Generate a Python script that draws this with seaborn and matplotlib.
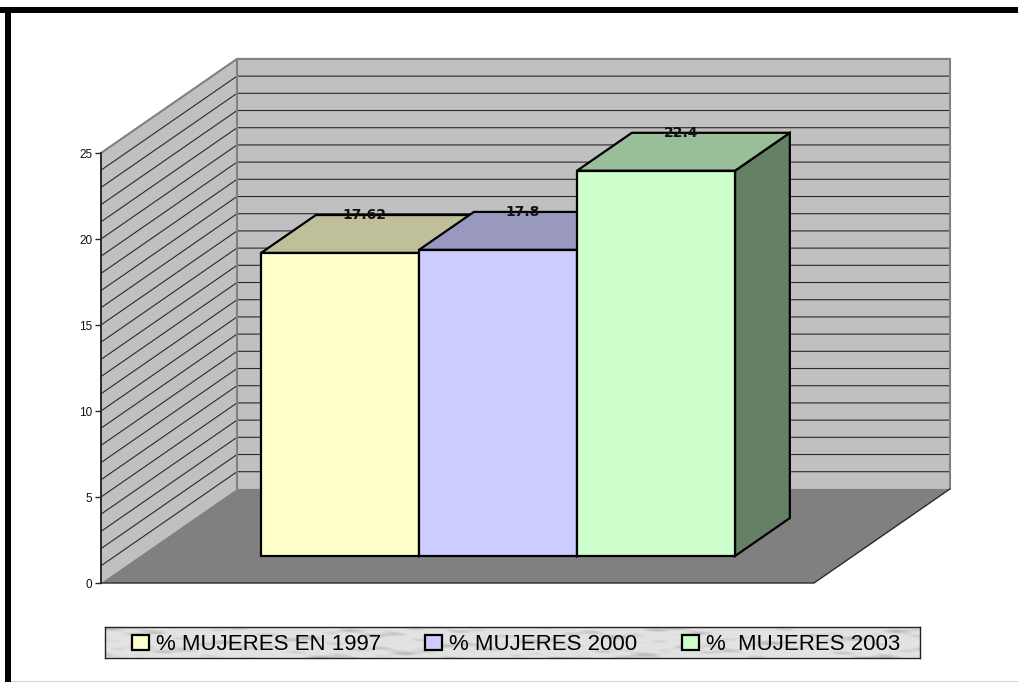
"""
Bar chart with a fake 3D look: share of women in 1997, 2000 and 2003.
"""

import matplotlib.pyplot as plt
import numpy as np
import pandas as pd
import seaborn as sns
from matplotlib.patches import Rectangle
from matplotlib.transforms import Affine2D

sns.set_style("white")
plt.rcParams["font.family"] = ["Liberation Sans", "DejaVu Sans"]

series = ["% MUJERES EN 1997", "% MUJERES 2000", "%  MUJERES 2003"]
values = [17.62, 17.8, 22.4]
front_colors = ["#FFFFCC", "#CCCCFF", "#CCFFCC"]
top_colors = ["#BFBF99", "#9999BF", "#99BF99"]
side_colors = ["#808066", "#666680", "#668066"]
y_ticks = [0, 5, 10, 15, 20, 25]
grid_levels = list(range(1, 25))

W, H = 1018, 682
XLIM = (-1.266, 3.247)
YLIM = (0, 25)

# depth of the box, in data units
DX = 0.861
DY = 5.47
BAR_FRONT = 0.287
BAR_BACK = 0.69


def skew(x, v, d):
    return x + d * DX, v + d * DY


def face(ax, corners, color, edge="none", lw=0.0, z=1):
    xs, ys = zip(*corners)
    ax.fill(xs, ys, facecolor=color, edgecolor=edge, linewidth=lw,
            zorder=z, clip_on=False, joinstyle="miter")


def px_box(x0, y0, x1, y1):
    return [x0 / W, 1 - y1 / H, (x1 - x0) / W, (y1 - y0) / H]


fig = plt.figure(figsize=(W / 100, H / 100), dpi=100, facecolor="white")

# outer frame: heavy on top and left, thin grey at the bottom
fig.add_artist(Rectangle((0, 1 - 13 / H), 1, 6 / H, color="black", lw=0))
fig.add_artist(Rectangle((5 / W, 0), 6 / W, 1 - 7 / H, color="black", lw=0))
fig.add_artist(Rectangle((11 / W, 0), 1, 1.2 / H, color="#D4D4D4", lw=0))

# marbled legend strip
strip = fig.add_axes(px_box(105, 627, 920, 658), zorder=1)
gx, gy = np.meshgrid(np.linspace(0, 1, 815), np.linspace(0, 1, 31))
marble = (np.sin(19 * gx + 9 * gy) + np.sin(47 * gx - 13 * gy + 1.3)
          + 0.8 * np.sin(83 * gx + 17 * gy + 0.4) + 0.7 * np.sin(151 * gx - 21 * gy + 2.1)
          + 0.5 * np.sin(29 * gy + 37 * gx))
marble = 226 - 38 * np.clip((marble - 0.3) / 3.2, 0, 1)
strip.imshow(marble, cmap="gray", vmin=0, vmax=255, aspect="auto", interpolation="bilinear")
strip.set_xticks([])
strip.set_yticks([])
for spine in strip.spines.values():
    spine.set_color("#222222")
    spine.set_linewidth(1.0)

ax = fig.add_axes(px_box(101, 153, 814, 583), zorder=2)
ax.patch.set_visible(False)

table = pd.DataFrame({"serie": series, "valor": values})
sns.barplot(data=table, x="serie", y="valor", hue="serie", palette=front_colors, saturation=1,
            width=1.0, dodge=False, legend=False, edgecolor="black", linewidth=1.6, ax=ax)
bars = list(ax.patches)

ax.set_xlim(*XLIM)
ax.set_ylim(*YLIM)

# walls and floor
xmin, xmax = XLIM
top = YLIM[1]
face(ax, [skew(xmin, 0, 1), skew(xmax, 0, 1), skew(xmax, top, 1), skew(xmin, top, 1)], "#C0C0C0")
face(ax, [skew(xmin, 0, 0), skew(xmin, 0, 1), skew(xmin, top, 1), skew(xmin, top, 0)], "#C0C0C0")

for level in grid_levels:
    a, b, c = skew(xmin, level, 0), skew(xmin, level, 1), skew(xmax, level, 1)
    ax.plot([a[0], b[0], c[0]], [a[1], b[1], c[1]], color="#2A2A2A", lw=0.8,
            zorder=1.5, clip_on=False)

edge_path = [skew(xmin, top, 0), skew(xmin, top, 1), skew(xmax, top, 1), skew(xmax, 0, 1)]
ax.plot(*zip(*edge_path), color="#808080", lw=1.5, zorder=1.6, clip_on=False)
ax.plot(*zip(skew(xmin, 0, 1), skew(xmin, top, 1)), color="#808080", lw=1.5, zorder=1.6,
        clip_on=False)

face(ax, [skew(xmin, 0, 0), skew(xmax, 0, 0), skew(xmax, 0, 1), skew(xmin, 0, 1)], "#808080", z=2)
ax.plot(*zip(skew(xmin, 0, 0), skew(xmax, 0, 0), skew(xmax, 0, 1)), color="#2A2A2A", lw=1.0,
        zorder=2.1, clip_on=False)

# boxes, left to right so each one hides the side of the previous one
for i, (bar, value) in enumerate(zip(bars, values)):
    left = bar.get_x()
    right = left + bar.get_width()
    z = 3 + i

    shift = Affine2D().translate(BAR_FRONT * DX, BAR_FRONT * DY)
    bar.set_transform(shift + ax.transData)
    bar.set_clip_on(False)
    bar.set_zorder(z + 0.2)
    bar.set_joinstyle("miter")

    d0, d1 = BAR_FRONT, BAR_BACK
    face(ax, [skew(right, 0, d0), skew(right, 0, d1), skew(right, value, d1), skew(right, value, d0)],
         side_colors[i], "black", 1.6, z)
    face(ax, [skew(left, value, d0), skew(right, value, d0), skew(right, value, d1), skew(left, value, d1)],
         top_colors[i], "black", 1.6, z + 0.1)

    lx, _ = skew((left + right) / 2, value, d0 + 0.45 * (d1 - d0))
    _, ly = skew(left, value, d1)
    ax.text(lx, ly, f"{value:g}", ha="center", va="center", fontsize=10,
            fontweight="bold", family="DejaVu Sans", color="#111111", zorder=20, clip_on=False)

ax.set_xticks([])
ax.set_yticks(y_ticks)
ax.set_xlabel("")
ax.set_ylabel("")
ax.tick_params(axis="y", left=True, length=4.3, width=1.0, color="#2A2A2A", pad=2,
               labelsize=8.5, labelcolor="#111111")
sns.despine(ax=ax, top=True, right=True, bottom=True)
ax.spines["left"].set_color("#2A2A2A")
ax.spines["left"].set_linewidth(1.4)
ax.spines["left"].set_zorder(10)

legend = ax.legend(handles=bars, labels=series, ncol=3, frameon=False, loc="center",
                   bbox_to_anchor=(516 / W, 1 - 644.5 / H), bbox_transform=fig.transFigure,
                   prop={"size": 16}, labelcolor="black",
                   handlelength=0.76, handleheight=0.68, handletextpad=0.31,
                   columnspacing=2.0, borderpad=0, borderaxespad=0)
legend.set_zorder(30)

fig.savefig("out.png", dpi=100)
plt.close(fig)
